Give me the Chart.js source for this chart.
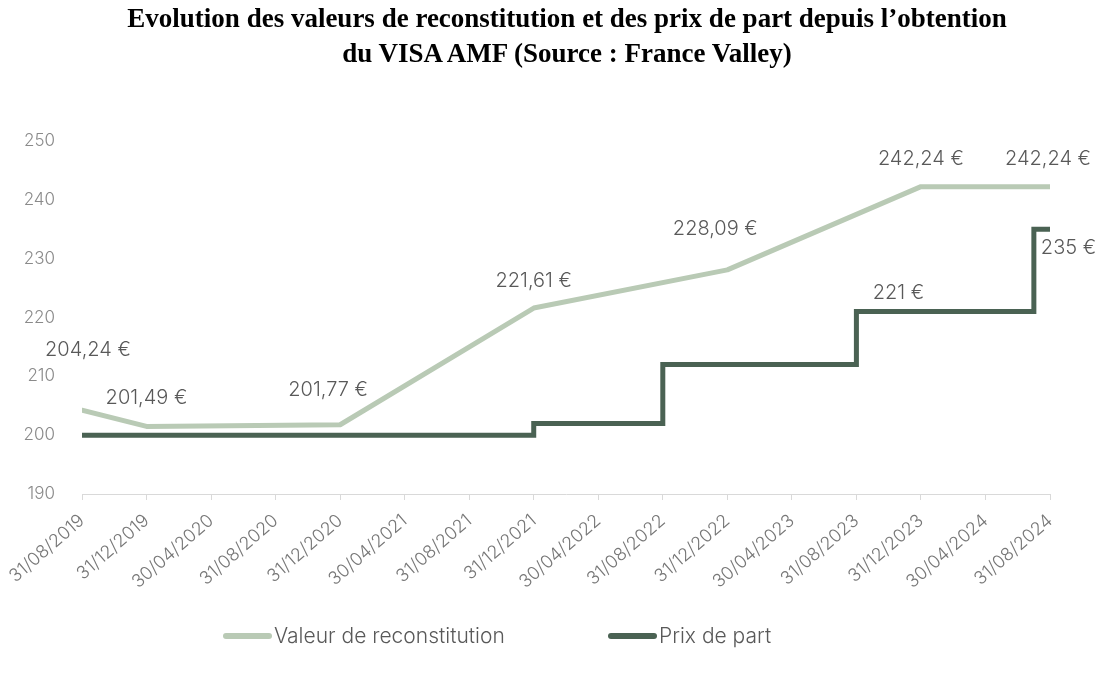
<!DOCTYPE html>
<html>
<head>
<meta charset="utf-8">
<script src="https://cdn.jsdelivr.net/npm/chart.js@4.4.1/dist/chart.umd.min.js"></script>
<style>
    html, body { margin: 0; padding: 0; background: #fff; }
    .wrap { position: relative; width: 1114px; height: 678px; }
    #title {
        position: absolute; top: 1px; left: 20px; width: 1094px; text-align: center;
        font-family: 'Liberation Serif', serif; font-weight: bold; font-size: 27px; line-height: 35px; color: #000;
    }
    #legend {
        position: absolute; top: 623px; left: 0; width: 1114px; height: 28px;
        font-family: Inter, sans-serif; font-weight: 300; font-size: 21px; color: #595959;
    }
    .legend-item { position: absolute; display: flex; align-items: center; }
    .legend-item .swatch { width: 49px; height: 6px; border-radius: 3px; margin-right: 2px; }
</style>
</head>
<body>
<div class="wrap">
    <canvas id="chart" width="1114" height="678"></canvas>
    <div id="title"></div>
    <div id="legend"></div>
</div>
<script>
const titleLines = ['Evolution des valeurs de reconstitution et des prix de part depuis l’obtention',
    'du VISA AMF (Source : France Valley)'];

// Tick labels on the x axis, one every 4 months
const dateLabels = ['31/08/2019', '31/12/2019', '30/04/2020', '31/08/2020', '31/12/2020', '30/04/2021',
    '31/08/2021', '31/12/2021', '30/04/2022', '31/08/2022', '31/12/2022', '30/04/2023',
    '31/08/2023', '31/12/2023', '30/04/2024', '31/08/2024'];

// Months elapsed since 31/08/2019
const valeurMonths = [0, 4, 16, 28, 40, 52, 60];
const valeurValues = [204.24, 201.49, 201.77, 221.61, 228.09, 242.24, 242.24];

const prixMonths = [0, 28, 36, 48, 59, 60];
const prixValues = [200, 202, 212, 221, 235, 235];

const seriesNames = ['Valeur de reconstitution', 'Prix de part'];
const seriesColors = ['#b9cab5', '#4a6253'];

document.getElementById('title').innerHTML = titleLines.join('<br>');

const toPoints = (xs, ys) => xs.map((x, i) => ({ x: x, y: ys[i] }));

const fmtEuro = v => (Number.isInteger(v) ? String(v) : v.toFixed(2).replace('.', ',')) + ' €';

// Draws the value labels next to some points
const valueLabels = {
    id: 'valueLabels',
    afterDatasetsDraw(chart, args, opts) {
        const ctx = chart.ctx;
        ctx.save();
        ctx.font = opts.font;
        ctx.fillStyle = opts.color;
        ctx.textBaseline = 'middle';
        opts.items.forEach(item => {
            const el = chart.getDatasetMeta(item.ds).data[item.i];
            const v = chart.data.datasets[item.ds].data[item.i].y;
            ctx.textAlign = item.align || 'center';
            ctx.fillText(fmtEuro(v), el.x + item.dx, el.y + item.dy);
        });
        ctx.restore();
    }
};

const ctx = document.getElementById('chart').getContext('2d');

const chart = new Chart(ctx, {
    type: 'line',
    data: {
        datasets: [{
            label: seriesNames[0],
            data: toPoints(valeurMonths, valeurValues),
            borderColor: seriesColors[0],
            backgroundColor: seriesColors[0],
            borderWidth: 5,
            borderCapStyle: 'round',
            borderJoinStyle: 'round',
            pointRadius: 0,
            tension: 0
        }, {
            label: seriesNames[1],
            data: toPoints(prixMonths, prixValues),
            borderColor: seriesColors[1],
            backgroundColor: seriesColors[1],
            borderWidth: 5,
            borderCapStyle: 'round',
            borderJoinStyle: 'miter',
            stepped: 'before',
            pointRadius: 0
        }]
    },
    options: {
        responsive: false,
        animation: false,
        layout: { padding: { top: 141, right: 64, bottom: 80, left: 0 } },
        scales: {
            x: {
                type: 'linear',
                min: 0,
                max: 60,
                afterFit: scale => { scale.height = 104; },
                afterBuildTicks: scale => {
                    scale.ticks = dateLabels.map((d, i) => ({ value: i * 4 }));
                },
                border: { color: '#d9d9d9', width: 1 },
                grid: { drawOnChartArea: false, color: '#d9d9d9', tickLength: 6 },
                ticks: {
                    minRotation: 41,
                    maxRotation: 41,
                    autoSkip: false,
                    padding: 10,
                    color: '#777777',
                    font: { family: 'Inter', weight: 300, size: 18 },
                    callback: v => dateLabels[v / 4]
                }
            },
            y: {
                min: 190,
                max: 250,
                afterFit: scale => { scale.width = 82; },
                border: { display: false },
                grid: { display: false },
                ticks: {
                    stepSize: 10,
                    padding: 19,
                    color: '#8a8a8a',
                    font: { family: 'Inter', weight: 300, size: 17 }
                }
            }
        },
        plugins: {
            legend: { display: false },
            tooltip: { enabled: false },
            valueLabels: {
                font: '300 20px Inter',
                color: '#595959',
                items: [
                    { ds: 0, i: 0, dx: 6, dy: -60 },
                    { ds: 0, i: 1, dx: 0, dy: -28 },
                    { ds: 0, i: 2, dx: -12, dy: -35 },
                    { ds: 0, i: 3, dx: 0, dy: -27 },
                    { ds: 0, i: 4, dx: -12, dy: -41 },
                    { ds: 0, i: 5, dx: 0, dy: -28 },
                    { ds: 0, i: 6, dx: -2, dy: -28 },
                    { ds: 1, i: 3, dx: 42, dy: -19 },
                    { ds: 1, i: 4, dx: 7, dy: 19, align: 'left' }
                ]
            }
        }
    },
    plugins: [valueLabels]
});

// Legend built from the datasets
const legend = document.getElementById('legend');
const legendLeft = [223, 608];
chart.data.datasets.forEach((ds, i) => {
    const item = document.createElement('div');
    item.className = 'legend-item';
    item.style.left = legendLeft[i] + 'px';
    item.innerHTML = `<span class="swatch" style="background:${ds.borderColor}"></span><span>${ds.label}</span>`;
    legend.appendChild(item);
});
</script>
</body>
</html>
